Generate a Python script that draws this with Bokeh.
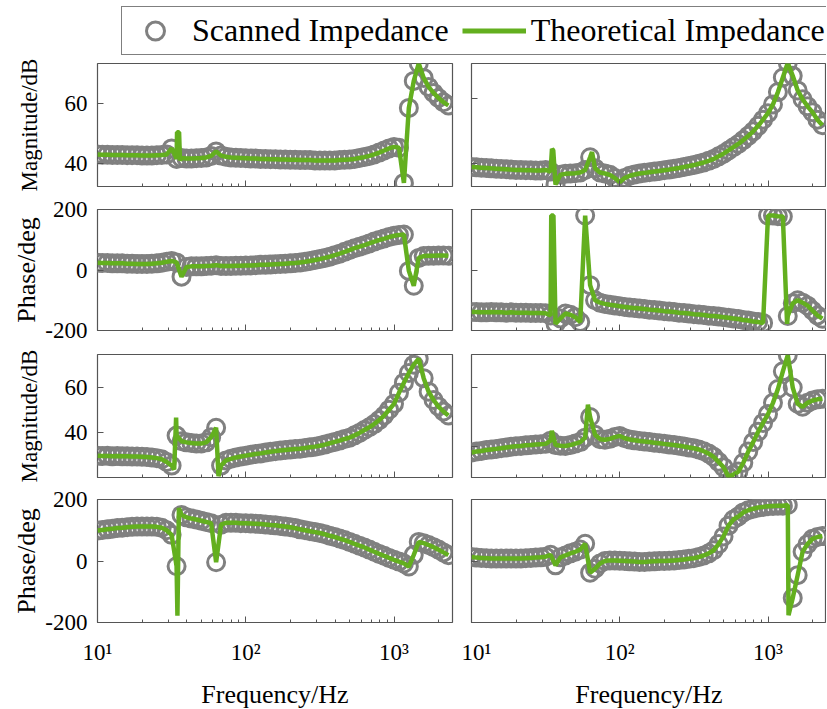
import numpy as np
from bokeh.plotting import figure
from bokeh.layouts import column, row
from bokeh.models import Range1d, FixedTicker, Legend, LegendItem
from bokeh.embed import file_html
from bokeh.resources import INLINE

# ---------------- data ----------------
FREQ = [10.00, 10.80, 11.66, 12.59, 13.59, 14.68, 15.85, 17.11, 18.48, 19.95,
        21.54, 23.26, 25.12, 27.12, 29.29, 31.62, 34.15, 36.87, 39.81, 42.99,
        46.42, 50.12, 54.12, 58.43, 63.10, 68.13, 73.56, 79.43, 85.77, 92.61,
        100.0, 108.0, 116.6, 125.9, 135.9, 146.8, 158.5, 171.1, 184.8, 199.5,
        215.4, 232.6, 251.2, 271.2, 292.9, 316.2, 341.5, 368.7, 398.1, 429.9,
        464.2, 501.2, 541.2, 584.3, 631.0, 681.3, 735.6, 794.3, 857.7, 926.1,
        1000, 1080, 1166, 1259, 1359, 1468, 1585, 1711, 1848, 1995, 2154, 2326]

# left column, rows 1-2
A_MAG = [43.0, 42.9, 42.9, 42.8, 42.8, 42.8, 42.7, 42.7, 42.7, 42.6, 42.6, 42.6, 42.7, 42.8, 43.0,
         45.0, 41.5, 41.8, 41.6, 41.6, 41.7, 41.8, 42.0, 42.5, 44.0, 42.6, 42.2, 42.0, 41.9, 41.8, 41.7,
         41.6, 41.6, 41.5, 41.5, 41.4, 41.4, 41.3, 41.3, 41.2, 41.2, 41.1, 41.1, 41.1, 41.0, 41.0,
         41.0, 41.0, 41.0, 41.1, 41.2, 41.3, 41.5, 41.8, 42.1, 42.5, 43.0, 43.6, 44.3, 45.0, 45.5,
         45.2, 33.5, 58.5, 67.5, 73.3, 68.5, 65.5, 63.5, 61.8, 60.4, 59.3]
A_MAG_SPIKE_F = [34.4, 35.5, 36.0]
A_MAG_SPIKE_V = [50.4, 50.4, 41.0]

A_PHASE = [24, 23, 23, 22, 22, 22, 21, 21, 20, 20, 20, 21, 22, 24, 27,
           30, 25, -22, 10, 12, 12, 12, 13, 14, 16, 13, 13, 13, 14, 14, 15,
           15, 16, 17, 17, 18, 19, 20, 21, 22, 23, 25, 27, 30, 33, 36,
           40, 44, 49, 54, 60, 66, 72, 77, 82, 88, 94, 99, 104, 109, 113,
           116, 117, -3, -52, 40, 46, 47, 47, 48, 48, 47]
A_PHASE_SPIKE_F = []
A_PHASE_SPIKE_V = []

# left column, rows 3-4
B_MAG = [29.6, 29.4, 29.5, 29.3, 29.4, 29.3, 29.3, 29.2, 29.2, 29.1, 29.0, 28.8, 28.5, 28.0, 26.8,
         25.2, 38.5, 36.0, 35.5, 35.2, 35.0, 35.0, 35.5, 37.8, 42.0, 25.2, 27.5, 28.2, 28.8, 29.2, 29.6,
         30.0, 30.3, 30.6, 31.0, 31.3, 31.6, 31.9, 32.1, 32.3, 32.5, 32.7, 33.0, 33.3, 33.6, 34.0,
         34.5, 35.1, 35.7, 36.3, 37.0, 37.6, 38.6, 39.7, 41.0, 42.2, 43.6, 45.4, 47.4, 50.0, 52.6,
         57.5, 62.0, 66.3, 70.0, 72.6, 64.0, 58.0, 54.3, 51.4, 49.2, 47.4]
B_MAG_SPIKE_F = [32.9, 33.9, 65.5]
B_MAG_SPIKE_V = [23.5, 46.5, 20.5]

B_PHASE = [99, 101, 103, 105, 107, 108, 110, 111, 112, 112, 112, 112, 111, 108, 100,
           85, -17, 150, 142, 138, 135, 131, 127, 123, -4, 118, 124, 124, 124, 123, 123,
           122, 121, 120, 119, 117, 116, 114, 112, 110, 107, 103, 100, 97, 94, 91,
           87, 82, 78, 73, 68, 62, 56, 50, 44, 37, 30, 23, 17, 10, 4,
           -2, -8, -18, 20, 62, 58, 52, 45, 37, 28, 19]
B_PHASE_SPIKE_F = [34.6, 35.4]
B_PHASE_SPIKE_V = [-178, 172]

# right column, rows 1-2
C_MAG = [38.9, 38.8, 38.7, 38.6, 38.5, 38.4, 38.3, 38.2, 38.1, 38.0, 38.0, 37.9, 37.9, 37.8, 37.8,
         38.0, 37.5, 33.5, 36.5, 36.8, 36.9, 37.0, 37.2, 38.0, 41.9, 38.5, 37.2, 36.9, 36.5, 35.5, 34.3,
         35.5, 36.2, 36.6, 36.9, 37.1, 37.3, 37.5, 37.7, 37.9, 38.1, 38.4, 38.6, 38.9, 39.2, 39.5,
         39.9, 40.3, 40.8, 41.4, 42.2, 43.0, 44.0, 45.0, 46.0, 47.2, 48.5, 49.9, 51.6, 53.5, 55.5,
         58.2, 62.0, 66.5, 71.0, 67.0, 62.5, 59.8, 57.6, 55.8, 53.5, 51.8]
C_MAG_SPIKE_F = [34.9, 35.6, 65.0]
C_MAG_SPIKE_V = [44.5, 44.0, 43.5]

C_PHASE = [-139, -139, -140, -140, -139, -140, -140, -141, -140, -141, -141, -141, -142, -142, -142,
           -143, -150, -178, -160, -144, -148, -156, -172, 180, -50, -100, -108, -112, -115, -117, -120,
           -122, -124, -126, -127, -129, -131, -132, -134, -136, -137, -139, -141, -142, -144, -146,
           -147, -149, -151, -152, -154, -156, -158, -160, -162, -165, -167, -170, -172, -175, 180,
           180, 178, 177, -152, -110, -100, -108, -118, -134, -150, -161]
C_PHASE_SPIKE_F = [34.5, 35.7, 1345]
C_PHASE_SPIKE_V = [180, 180, -178]

# right column, rows 3-4
D_MAG = [38.0, 38.3, 38.5, 38.8, 39.0, 39.2, 39.4, 39.7, 39.9, 40.1, 40.2, 40.4, 40.5, 40.7, 40.8,
         40.9, 42.0, 40.5, 40.3, 40.2, 40.5, 41.0, 41.5, 43.0, 50.0, 44.0, 42.5, 42.3, 42.6, 43.2, 43.6,
         42.8, 42.4, 42.1, 41.9, 41.7, 41.5, 41.3, 41.1, 40.9, 40.7, 40.5, 40.3, 40.0, 39.7, 39.4,
         39.0, 38.4, 37.6, 36.5, 34.8, 33.0, 29.8, 30.5, 31.5, 34.5, 38.3, 41.5, 45.0, 48.0, 51.0,
         54.8, 59.5, 65.5, 71.0, 60.0, 54.5, 53.5, 54.8, 55.6, 56.0, 56.2]
D_MAG_SPIKE_F = [34.8, 61.0]
D_MAG_SPIKE_V = [45.3, 54.2]

D_PHASE = [13, 11, 10, 9, 8, 8, 8, 8, 8, 8, 8, 9, 10, 11, 12,
           14, 20, -14, 12, 18, 25, 30, 37, 56, -38, -25, -8, 0, 2, 2, 1,
           0, -1, -2, -3, -3, -2, -1, 0, 0, 1, 2, 3, 5, 7, 9,
           13, 18, 25, 35, 55, 80, 115, 135, 145, 158, 165, 170, 174, 176, 178,
           179, 180, 180, 182, -120, -46, 30, 55, 72, 78, 81]
D_PHASE_SPIKE_F = [1375]
D_PHASE_SPIKE_V = [-176]

X_MAJOR = [10, 100, 1000]
X_LABELS = {10: "10\u00b9", 100: "10\u00b2", 1000: "10\u00b3"}
X_MINOR = [20, 30, 40, 50, 60, 70, 80, 90, 200, 300, 400, 500, 600, 700, 800, 900, 2000]
MAG_TICKS = [40, 60]
MAG_LABELS = {40: "40", 60: "60"}
PHASE_TICKS = [-200, 0, 200]
PHASE_LABELS = {-200: "-200", 0: "0", 200: "200"}
LEGEND_X = [0.5]
LEGEND_Y = [0.5]

# ---------------- styling ----------------
SCAN_COLOR = "#808080"
THEO_COLOR = "#63AF1F"
FONT = "Liberation Serif"
FRAME_COLOR = "#555555"
X_LIMITS = (10, 2480)
FRAME_W = 355
TICK_FONT = "23px"
# (border_top, border_bottom, frame_height) per row
ROWS = [(7, 9, 123), (14, 15, 121), (9, 8, 123), (14, 86, 123)]


def theo_curve(scan, spike_f, spike_v):
    f = list(FREQ) + list(spike_f)
    v = list(scan) + list(spike_v)
    order = np.argsort(f, kind="stable")
    return [f[i] for i in order], [v[i] for i in order]


def hide_labels(axis):
    axis.major_label_text_font_size = "1px"
    axis.major_label_text_color = None
    axis.major_label_standoff = 0


def panel(scan, spike_f, spike_v, y_lim, y_ticks, y_labels, left, row_i, y_label=None, is_mag=True):
    bt, bb, fh = ROWS[row_i]
    bottom = row_i == 3
    p = figure(x_axis_type="log", x_range=Range1d(*X_LIMITS), y_range=Range1d(*y_lim),
               frame_width=FRAME_W, frame_height=fh,
               min_border_left=97 if left else 10, min_border_right=9 if left else 0,
               min_border_top=bt, min_border_bottom=bb,
               output_backend="svg", toolbar_location=None)
    p.grid.visible = False
    p.outline_line_color = FRAME_COLOR
    p.outline_line_width = 1.2
    p.background_fill_color = "white"
    p.border_fill_color = "white"

    p.scatter(FREQ, scan, marker="circle", size=17, fill_color=None,
              line_color=SCAN_COLOR, line_width=3)
    tf, tv = theo_curve(scan, spike_f, spike_v)
    p.line(tf, tv, line_color=THEO_COLOR, line_width=4.5)

    xa = p.xaxis[0]
    xa.ticker = FixedTicker(ticks=X_MAJOR, minor_ticks=X_MINOR)
    xa.axis_line_color = None
    xa.major_tick_in = 6
    xa.major_tick_out = 0
    xa.minor_tick_in = 3
    xa.minor_tick_out = 0
    xa.major_tick_line_color = FRAME_COLOR
    xa.minor_tick_line_color = FRAME_COLOR
    if bottom:
        xa.major_label_overrides = X_LABELS
        xa.major_label_text_font = FONT
        xa.major_label_text_font_size = TICK_FONT
        xa.major_label_text_color = "black"
        xa.major_label_standoff = 17
        xa.axis_label = "Frequency/Hz"
        xa.axis_label_text_font = FONT
        xa.axis_label_text_font_size = "26px"
        xa.axis_label_text_font_style = "normal"
        xa.axis_label_text_color = "black"
        xa.axis_label_standoff = 12
    else:
        hide_labels(xa)

    ya = p.yaxis[0]
    ya.ticker = FixedTicker(ticks=y_ticks)
    ya.axis_line_color = None
    ya.major_tick_in = 6
    ya.major_tick_out = 0
    ya.minor_tick_in = 0
    ya.minor_tick_out = 0
    ya.major_tick_line_color = FRAME_COLOR
    if left:
        ya.major_label_overrides = y_labels
        ya.major_label_text_font = FONT
        ya.major_label_text_font_size = TICK_FONT
        ya.major_label_text_color = "black"
        ya.major_label_standoff = 10
        ya.axis_label = y_label
        ya.axis_label_text_font = FONT
        ya.axis_label_text_font_size = "23px" if is_mag else "26px"
        ya.axis_label_text_font_style = "normal"
        ya.axis_label_text_color = "black"
        ya.axis_label_standoff = 20 if is_mag else 1
    else:
        hide_labels(ya)
    return p


p1 = panel(A_MAG, A_MAG_SPIKE_F, A_MAG_SPIKE_V, (32.3, 73.3), MAG_TICKS, MAG_LABELS, True, 0, "Magnitude/dB")
p2 = panel(A_PHASE, A_PHASE_SPIKE_F, A_PHASE_SPIKE_V, (-200, 200), PHASE_TICKS, PHASE_LABELS, True, 1, "Phase/deg", False)
p3 = panel(B_MAG, B_MAG_SPIKE_F, B_MAG_SPIKE_V, (19.9, 74.5), MAG_TICKS, MAG_LABELS, True, 2, "Magnitude/dB")
p4 = panel(B_PHASE, B_PHASE_SPIKE_F, B_PHASE_SPIKE_V, (-200, 200), PHASE_TICKS, PHASE_LABELS, True, 3, "Phase/deg", False)
q1 = panel(C_MAG, C_MAG_SPIKE_F, C_MAG_SPIKE_V, (32.9, 70.8), MAG_TICKS, MAG_LABELS, False, 0)
q2 = panel(C_PHASE, C_PHASE_SPIKE_F, C_PHASE_SPIKE_V, (-200, 200), PHASE_TICKS, PHASE_LABELS, False, 1, is_mag=False)
q3 = panel(D_MAG, D_MAG_SPIKE_F, D_MAG_SPIKE_V, (29.5, 71.2), MAG_TICKS, MAG_LABELS, False, 2)
q4 = panel(D_PHASE, D_PHASE_SPIKE_F, D_PHASE_SPIKE_V, (-200, 200), PHASE_TICKS, PHASE_LABELS, False, 3, is_mag=False)

# legend strip (its renderers sit outside the visible range)
lg = figure(width=826, height=56, x_range=Range1d(10, 11), y_range=Range1d(10, 11),
            x_axis_location=None, y_axis_location=None, min_border=0,
            output_backend="svg", toolbar_location=None)
lg.grid.visible = False
lg.outline_line_color = None
r_scan = lg.scatter(x=LEGEND_X, y=LEGEND_Y, marker="circle", size=17, fill_color=None,
                    line_color=SCAN_COLOR, line_width=3)
r_theo = lg.line(x=LEGEND_X, y=LEGEND_Y, line_color=THEO_COLOR, line_width=5)
legend = Legend(items=[LegendItem(label="Scanned Impedance", renderers=[r_scan]),
                       LegendItem(label="Theoretical Impedance", renderers=[r_theo])],
                location=(121, 1), orientation="horizontal",
                glyph_width=64, glyph_height=45, label_standoff=5, spacing=13,
                padding=1, margin=0,
                border_line_color="black", border_line_width=1,
                label_text_font=FONT, label_text_font_size="32px", label_text_color="black")
lg.add_layout(legend)

layout = column(lg, row(p1, q1), row(p2, q2), row(p3, q3), row(p4, q4))

with open("out.html", "w") as fh:
    fh.write(file_html(layout, INLINE))
